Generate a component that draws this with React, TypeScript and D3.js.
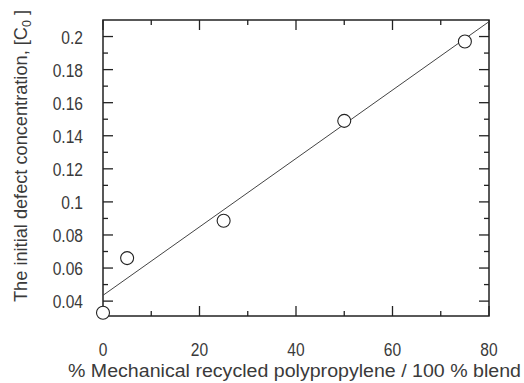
import React from "react";
import * as d3 from "d3";

// Measured blend data
const blendPct = [0, 5, 25, 50, 75];
const defectConc = [0.033, 0.066, 0.0886, 0.149, 0.197];

// Linear fit through the measurements (end points)
const fitX = [0, 80];
const fitY = [0.0435, 0.209];

const xMajorTicks = [0, 20, 40, 60, 80];
const xMinorTicks = [10, 30, 50, 70];
const yMajorTicks = [0.04, 0.06, 0.08, 0.1, 0.12, 0.14, 0.16, 0.18, 0.2];
const yMinorTicks = [0.05, 0.07, 0.09, 0.11, 0.13, 0.15, 0.17, 0.19];
const yTickLabels = ["0.04", "0.06", "0.08", "0.1", "0.12", "0.14", "0.16", "0.18", "0.2"];

const W = 524;
const H = 383;
const L = 103, R = 489, T = 20, B = 316;
const FONT = "'Liberation Sans', Arial, Helvetica, sans-serif";
const SX = 0.82;

export default function App() {
  const x = d3.scaleLinear().domain([0, 80]).range([L, R]);
  const y = d3.scaleLinear().domain([0.031, 0.21]).range([B, T]);
  const line = d3.line<number>().x((_, i) => x(fitX[i])).y((d) => y(d));

  const ink = "#222";
  const major = 10, minor = 5;

  return (
    <div style={{ position: "absolute", left: 0, top: 0 }}>
      <svg width={W} height={H} style={{ display: "block", background: "#fff" }}>
        <g stroke={ink} strokeWidth={1.3}>
          {/* x ticks bottom and top */}
          {xMajorTicks.map((t) => (
            <g key={"xm" + t}>
              <line x1={x(t)} x2={x(t)} y1={B} y2={B - major} />
              <line x1={x(t)} x2={x(t)} y1={T} y2={T + major} />
            </g>
          ))}
          {xMinorTicks.map((t) => (
            <g key={"xn" + t}>
              <line x1={x(t)} x2={x(t)} y1={B} y2={B - minor} />
              <line x1={x(t)} x2={x(t)} y1={T} y2={T + minor} />
            </g>
          ))}
          {/* y ticks left and right */}
          {yMajorTicks.map((t) => (
            <g key={"ym" + t}>
              <line x1={L} x2={L + major} y1={y(t)} y2={y(t)} />
              <line x1={R} x2={R - major} y1={y(t)} y2={y(t)} />
            </g>
          ))}
          {yMinorTicks.map((t) => (
            <g key={"yn" + t}>
              <line x1={L} x2={L + minor} y1={y(t)} y2={y(t)} />
              <line x1={R} x2={R - minor} y1={y(t)} y2={y(t)} />
            </g>
          ))}
          <rect x={L} y={T} width={R - L} height={B - T} fill="none" strokeWidth={1.5} />
        </g>

        <path d={line(fitY) || ""} fill="none" stroke="#444" strokeWidth={1} />

        {blendPct.map((p, i) => (
          <circle key={p} cx={x(p)} cy={y(defectConc[i])} r={6.5} fill="#fff" stroke="#222" strokeWidth={1.1} />
        ))}

        <g fontFamily={FONT} fontSize={19} fill="#3a3a3a">
          {xMajorTicks.map((t) => (
            <text key={"xl" + t} transform={`translate(${x(t)},356) scale(${SX},1)`} textAnchor="middle">
              {t}
            </text>
          ))}
          {yMajorTicks.map((t, i) => (
            <text key={"yl" + t} transform={`translate(83,${y(t) + 7}) scale(${SX},1)`} textAnchor="end">
              {yTickLabels[i]}
            </text>
          ))}
        </g>

        <g fontFamily={FONT} fontSize={17.5} fill="#3a3a3a">
          <text x={68} y={377} textLength={453} lengthAdjust="spacingAndGlyphs">
            % Mechanical recycled polypropylene / 100 % blend
          </text>
          <text transform="translate(27,302) rotate(-90)" textLength={292} lengthAdjust="spacingAndGlyphs">
            The initial defect concentration, [C<tspan fontSize={12} dy={4}>0</tspan><tspan dy={-4}> ]</tspan>
          </text>
        </g>
      </svg>
    </div>
  );
}
